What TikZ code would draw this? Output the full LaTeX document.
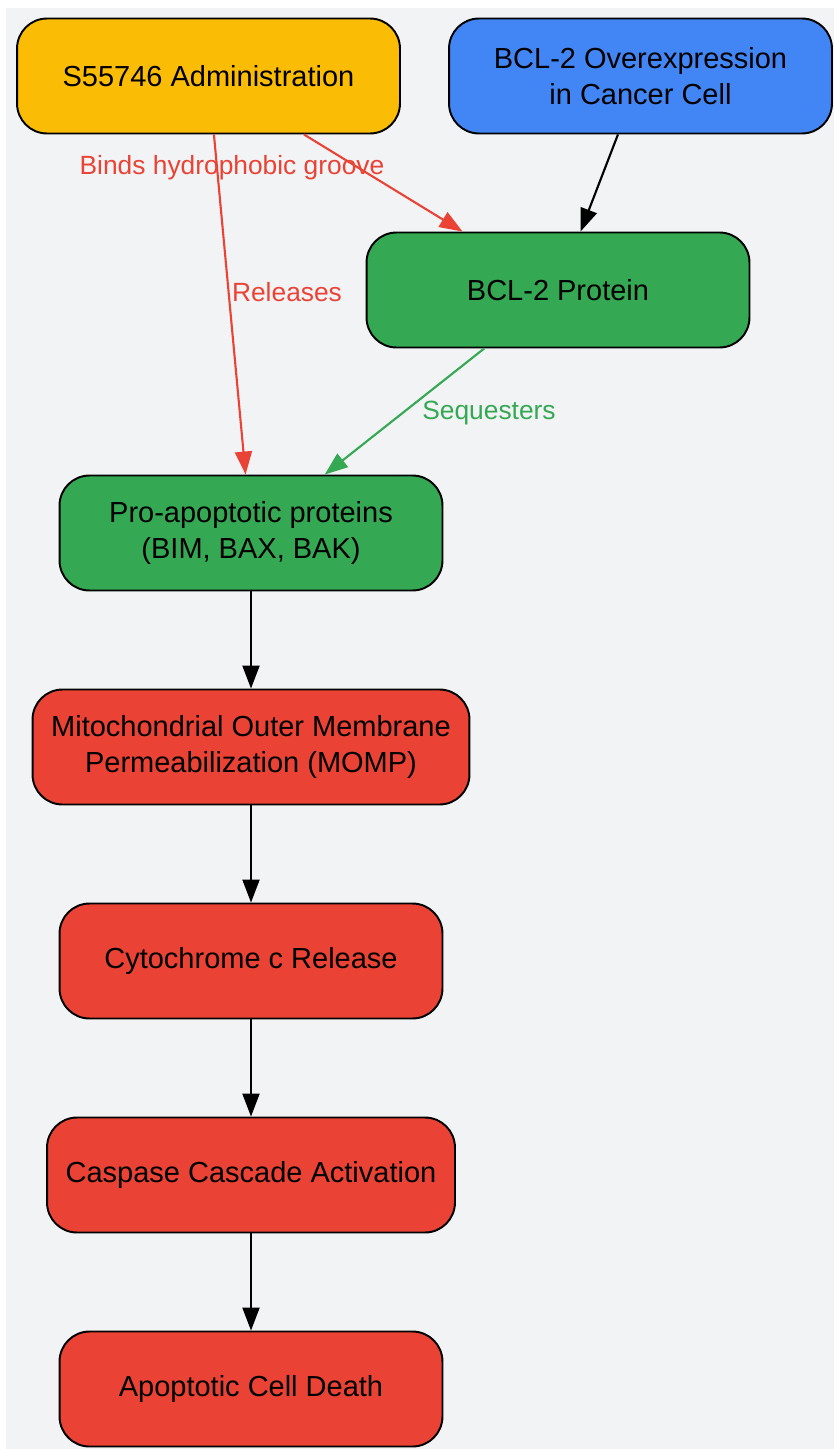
\documentclass[tikz,border=0pt]{standalone}
\usepackage{fontspec}
\setmainfont{Liberation Sans}
\usetikzlibrary{arrows.meta,calc}

\definecolor{bggray}{HTML}{F1F3F5}
\definecolor{drugyellow}{HTML}{FBBC05}
\definecolor{cellblue}{HTML}{4285F4}
\definecolor{protgreen}{HTML}{34A853}
\definecolor{deathred}{HTML}{EA4335}

\tikzset{
  stepbox/.style={draw=black, line width=1.1pt, rounded corners=0.6cm,
    minimum width=7.66cm, minimum height=2.3cm, align=center, inner sep=0pt,
    font=\fontsize{16.5}{20.5}\selectfont},
  flow/.style={-{Triangle[length=0.46cm,width=0.34cm]}, line width=1.2pt},
  lbl/.style={font=\fontsize{15}{18}\selectfont},
}

\begin{document}
\begin{tikzpicture}[x=0.02cm,y=-0.02cm]
  \useasboundingbox (0,0) rectangle (834,1449);
  \fill[bggray] (6,8) rectangle (834,1449);

  % top row
  \node[stepbox,fill=drugyellow] (admin) at (208.5,76) {S55746 Administration};
  \node[stepbox,fill=cellblue] (overexp) at (640.5,76) {BCL-2 Overexpression\\in Cancer Cell};
  \node[stepbox,fill=protgreen] (bcl) at (558,290) {BCL-2 Protein};

  % main chain
  \node[stepbox,fill=protgreen] (proapo) at (251,533) {Pro-apoptotic proteins\\(BIM, BAX, BAK)};
  \node[stepbox,fill=deathred,minimum width=8.74cm] (momp) at (251,747) {Mitochondrial Outer Membrane\\Permeabilization (MOMP)};
  \node[stepbox,fill=deathred] (cytc) at (251,961) {Cytochrome c Release};
  \node[stepbox,fill=deathred,minimum width=8.16cm] (casp) at (251,1175) {Caspase Cascade Activation};
  \node[stepbox,fill=deathred] (death) at (251,1389) {Apoptotic Cell Death};

  % edges
  \draw[flow,deathred] (admin) -- (bcl);
  \draw[flow,deathred] (admin) -- (proapo);
  \draw[flow] (overexp) -- (bcl);
  \draw[flow,protgreen] (bcl) -- (proapo);
  \draw[flow] (proapo) -- (momp);
  \draw[flow] (momp) -- (cytc);
  \draw[flow] (cytc) -- (casp);
  \draw[flow] (casp) -- (death);

  % edge labels
  \node[lbl,text=deathred] (bindlbl) at (232,168) {Binds hydrophobic groove};
  \node[lbl,text=deathred] (releaselbl) at (287,292) {Releases};
  \node[lbl,text=protgreen] (seqlbl) at (489,413) {Sequesters};
\end{tikzpicture}
\end{document}
